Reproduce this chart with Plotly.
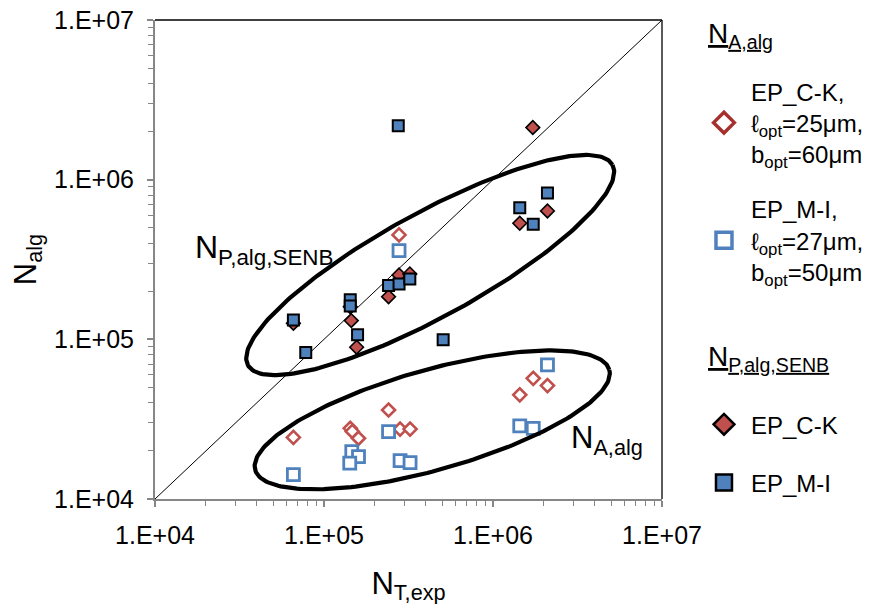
import numpy as np
import plotly.graph_objects as go

# ---------------- data ----------------
CK_A_X = [2.78e5, 1.73e6, 2.10e6, 1.44e6, 6.59e4, 1.43e5, 1.47e5, 1.60e5, 2.41e5, 2.82e5, 3.23e5]
CK_A_Y = [4.51e5, 5.70e4, 5.13e4, 4.49e4, 2.43e4, 2.77e4, 2.65e4, 2.40e4, 3.61e4, 2.74e4, 2.74e4]

MI_A_X = [2.78e5, 2.10e6, 1.44e6, 1.73e6, 6.59e4, 2.41e5, 1.46e5, 1.60e5, 1.42e5, 2.82e5, 3.23e5]
MI_A_Y = [3.59e5, 6.91e4, 2.87e4, 2.77e4, 1.42e4, 2.64e4, 1.98e4, 1.84e4, 1.68e4, 1.74e4, 1.69e4]

CK_P_X = [1.72e6, 2.10e6, 1.44e6, 2.41e5, 2.78e5, 3.22e5, 6.59e4, 1.45e5, 1.56e5, 1.43e5]
CK_P_Y = [2.12e6, 6.37e5, 5.33e5, 1.85e5, 2.53e5, 2.57e5, 1.26e5, 1.31e5, 8.92e4, 1.60e5]

MI_P_X = [2.75e5, 2.10e6, 1.44e6, 1.73e6, 5.07e5, 2.41e5, 2.78e5, 3.22e5, 6.59e4, 1.43e5, 1.43e5, 1.58e5, 7.80e4]
MI_P_Y = [2.18e6, 8.26e5, 6.68e5, 5.26e5, 9.95e4, 2.17e5, 2.22e5, 2.39e5, 1.32e5, 1.77e5, 1.62e5, 1.07e5, 8.26e4]

LINE_XY = [1e4, 1e7]  # y = x reference line

TICK_VALS = [1e4, 1e5, 1e6, 1e7]
TICK_TEXT = ["1.E+04", "1.E+05", "1.E+06", "1.E+07"]

# ellipse annotations: centre (data), semi-axes (px), rotation (deg)
ELL_P = dict(cx=4.25e5, cy=2.92e5, a=208, b=52, ang=28.8)
ELL_A = dict(cx=4.37e5, cy=3.13e4, a=184, b=50, ang=15.8)

LABEL_P = "N<sub>P,alg,SENB</sub>"
LABEL_A = "N<sub>A,alg</sub>"
HEAD_A = "<u>N</u><sub><u>A,alg</u></sub>"
HEAD_P = "<u>N</u><sub><u>P,alg,SENB</u></sub>"

LEG_CK_A = "EP_C-K,<br>ℓ<sub>opt</sub>=25μm,<br>b<sub>opt</sub>=60μm"
LEG_MI_A = "EP_M-I,<br>ℓ<sub>opt</sub>=27μm,<br>b<sub>opt</sub>=50μm"
LEG_CK_P = "EP_C-K"
LEG_MI_P = "EP_M-I"

# ---------------- layout geometry ----------------
W, H = 871, 604
ML, MR, MT, MB = 147, 217, 12, 113
KX = (W - ML - MR) / 3.0   # px per decade (x)
KY = (H - MT - MB) / 3.0   # px per decade (y)

RED = "#C0504D"
BLUE = "#4F81BD"
FONT = "Liberation Sans, Arial, sans-serif"


def ellipse(cx, cy, a, b, ang):
    t = np.linspace(0, 2 * np.pi, 241)
    th = np.deg2rad(ang)
    px = a * np.cos(t) * np.cos(th) - b * np.sin(t) * np.sin(th)
    py = a * np.cos(t) * np.sin(th) + b * np.sin(t) * np.cos(th)
    return 10 ** (np.log10(cx) + px / KX), 10 ** (np.log10(cy) + py / KY)


fig = go.Figure()

fig.add_trace(go.Scatter(x=LINE_XY, y=LINE_XY, mode="lines",
                         line=dict(color="black", width=1), showlegend=False, hoverinfo="skip"))

fig.add_trace(go.Scatter(x=CK_A_X, y=CK_A_Y, mode="markers", showlegend=False,
                         marker=dict(symbol="diamond", size=10, color="white",
                                     line=dict(color=RED, width=2.6))))
fig.add_trace(go.Scatter(x=MI_A_X, y=MI_A_Y, mode="markers", showlegend=False,
                         marker=dict(symbol="square", size=12, color="white",
                                     line=dict(color=BLUE, width=2.8))))
fig.add_trace(go.Scatter(x=CK_P_X, y=CK_P_Y, mode="markers", showlegend=False,
                         marker=dict(symbol="diamond", size=10.5, color=RED,
                                     line=dict(color="black", width=1.6))))
fig.add_trace(go.Scatter(x=MI_P_X, y=MI_P_Y, mode="markers", showlegend=False,
                         marker=dict(symbol="square", size=11, color=BLUE,
                                     line=dict(color="black", width=2))))

for e in (ELL_P, ELL_A):
    ex, ey = ellipse(**e)
    fig.add_trace(go.Scatter(x=ex, y=ey, mode="lines", line=dict(color="black", width=4.2),
                             showlegend=False, hoverinfo="skip"))

# legend-only entries (no data points)
fig.add_trace(go.Scatter(x=[None], y=[None], mode="markers", name=LEG_CK_A,
                         legend="legend", legendgroup="A1",
                         marker=dict(symbol="diamond", size=16, color="white",
                                     line=dict(color="#A5302D", width=3.5))))
fig.add_trace(go.Scatter(x=[None], y=[None], mode="markers", name=LEG_MI_A,
                         legend="legend", legendgroup="A2",
                         marker=dict(symbol="square", size=16, color="white",
                                     line=dict(color=BLUE, width=3.5))))
fig.add_trace(go.Scatter(x=[None], y=[None], mode="markers", name=LEG_CK_P,
                         legend="legend2", legendgroup="P1",
                         marker=dict(symbol="diamond", size=16, color=RED,
                                     line=dict(color="black", width=2.5))))
fig.add_trace(go.Scatter(x=[None], y=[None], mode="markers", name=LEG_MI_P,
                         legend="legend2", legendgroup="P2",
                         marker=dict(symbol="square", size=16, color=BLUE,
                                     line=dict(color="black", width=2.5))))

# labels beside the ellipses
fig.add_annotation(x=np.log10(4.41e4), y=np.log10(3.63e5), text=LABEL_P,
                   showarrow=False, xanchor="center", yanchor="middle",
                   font=dict(size=32, color="black", family=FONT))
fig.add_annotation(x=np.log10(4.73e6), y=np.log10(2.34e4), text=LABEL_A,
                   showarrow=False, xanchor="center", yanchor="middle",
                   font=dict(size=31, color="black", family=FONT))

# legend headings
fig.add_annotation(xref="paper", yref="paper", x=1.087, y=1.008, text=HEAD_A,
                   showarrow=False, xanchor="left", yanchor="top",
                   font=dict(size=28, color="black", family=FONT))
fig.add_annotation(xref="paper", yref="paper", x=1.087, y=0.335, text=HEAD_P,
                   showarrow=False, xanchor="left", yanchor="top",
                   font=dict(size=28, color="black", family=FONT))

axis_common = dict(
    type="log", range=[4, 7], tickvals=TICK_VALS, ticktext=TICK_TEXT,
    showgrid=False, zeroline=False, showline=True, linecolor="#868686", linewidth=2,
    ticks="outside", ticklen=6, tickwidth=1.5, tickcolor="#868686",
    tickfont=dict(size=25, color="black", family=FONT), ticklabeloverflow="allow",
    minor=dict(ticks="outside", ticklen=5, tickwidth=1.3, tickcolor="#868686", dtick="D1", showgrid=False),
)

fig.update_xaxes(**axis_common, ticklabelstandoff=7,
                 title=dict(text="N<sub>T,exp</sub>", font=dict(size=31, family=FONT), standoff=24))
fig.update_yaxes(**axis_common, ticklabelstandoff=8,
                 title=dict(text="N<sub>alg</sub>", font=dict(size=31, family=FONT), standoff=14))

# top and right frame lines
fig.add_shape(type="line", xref="x domain", yref="y domain", x0=0, x1=1, y0=1, y1=1,
              line=dict(color="black", width=1.3))
fig.add_shape(type="line", xref="x domain", yref="y domain", x0=1, x1=1, y0=0, y1=1,
              line=dict(color="black", width=1.3))

legend_common = dict(xanchor="left", yanchor="top", traceorder="grouped",
                     itemwidth=44, itemclick=False, font=dict(size=24, family=FONT, color="black"),
                     bgcolor="rgba(0,0,0,0)")

fig.update_layout(
    width=W, height=H,
    margin=dict(l=ML, r=MR, t=MT, b=MB, autoexpand=False),
    paper_bgcolor="white", plot_bgcolor="white",
    font=dict(family=FONT, color="black", size=24),
    legend=dict(x=1.069, y=0.897, tracegroupgap=21, **legend_common),
    legend2=dict(x=1.069, y=0.202, tracegroupgap=24, **legend_common),
    showlegend=True,
)

fig.write_html("out.html")
